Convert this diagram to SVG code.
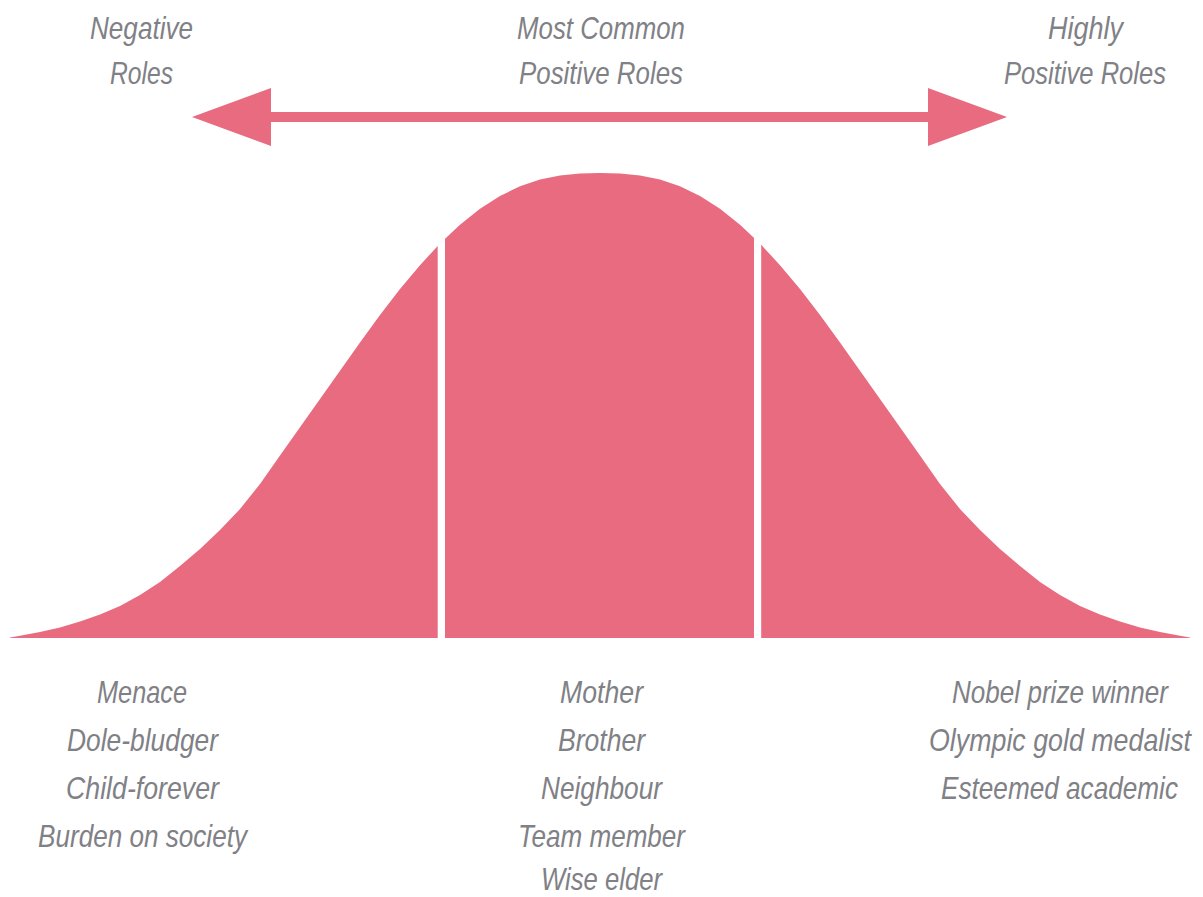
<svg xmlns="http://www.w3.org/2000/svg" width="1203" height="897" viewBox="0 0 1203 897">
<style>
.t{font-family:"Liberation Sans",Arial,sans-serif;font-style:italic;font-size:31px;fill:#7F8186;text-anchor:middle}
.pink{fill:#E86B80}
.gap{fill:#FFFFFF}
</style>
<rect width="1203" height="897" fill="#FFFFFF"/>
<g id="connectors">
<polygon id="range-arrow" class="pink" points="192,117 271,88 271,112 928,112 928,88 1007,117 928,146 928,122 271,122 271,146"/>
</g>
<g id="bell-curve">
<path class="pink" d="M10,637.5 L20,635.8 L40,632 L60,627.5 L80,621.5 L100,614.5 L120,606 L140,595 L160,582 L180,566 L200,549 L220,530 L240,509 L260,484 L280,455.5 L300,427.3 L320,399.1 L340,370.7 L360,342.4 L380,315.1 L400,289.1 L420,265.2 L440,243.5 L460,224.7 L480,208.8 L500,196 L520,186.3 L540,179.5 L560,175.4 L580,173.4 L600,173 L620,173.4 L640,175.4 L660,179.5 L680,186.3 L700,196 L720,208.8 L740,224.7 L760,243.5 L780,265.2 L800,289.1 L820,315.1 L840,342.4 L860,370.7 L880,399.1 L900,427.3 L920,455.5 L940,484 L960,509 L980,530 L1000,549 L1020,566 L1040,582 L1060,595 L1080,606 L1100,614.5 L1120,621.5 L1140,627.5 L1160,632 L1180,635.8 L1190,637.5 L1190,638 L10,638 Z"/>
<rect class="gap" x="437.7" y="165" width="7.3" height="476"/>
<rect class="gap" x="754" y="165" width="7.2" height="476"/>
</g>
<g id="header-negative">
<text class="t" transform="translate(141.5,39) scale(0.86,1)" textLength="119.8" lengthAdjust="spacingAndGlyphs">Negative</text>
<text class="t" transform="translate(141.5,84) scale(0.86,1)" textLength="73.3" lengthAdjust="spacingAndGlyphs">Roles</text>
</g>
<g id="header-common">
<text class="t" transform="translate(601,39) scale(0.86,1)" textLength="195.3" lengthAdjust="spacingAndGlyphs">Most Common</text>
<text class="t" transform="translate(601,84) scale(0.86,1)" textLength="190.7" lengthAdjust="spacingAndGlyphs">Positive Roles</text>
</g>
<g id="header-highly">
<text class="t" transform="translate(1085.5,39) scale(0.86,1)" textLength="87.2" lengthAdjust="spacingAndGlyphs">Highly</text>
<text class="t" transform="translate(1085,84) scale(0.86,1)" textLength="188.4" lengthAdjust="spacingAndGlyphs">Positive Roles</text>
</g>
<g id="list-negative">
<text class="t" transform="translate(142,703) scale(0.86,1)" textLength="104.7" lengthAdjust="spacingAndGlyphs">Menace</text>
<text class="t" transform="translate(142.5,751) scale(0.86,1)" textLength="175.6" lengthAdjust="spacingAndGlyphs">Dole-bludger</text>
<text class="t" transform="translate(142.5,799) scale(0.86,1)" textLength="177.9" lengthAdjust="spacingAndGlyphs">Child-forever</text>
<text class="t" transform="translate(142.5,847) scale(0.86,1)" textLength="243" lengthAdjust="spacingAndGlyphs">Burden on society</text>
</g>
<g id="list-common">
<text class="t" transform="translate(601.5,703) scale(0.86,1)" textLength="96.5" lengthAdjust="spacingAndGlyphs">Mother</text>
<text class="t" transform="translate(601.5,751) scale(0.86,1)" textLength="101.2" lengthAdjust="spacingAndGlyphs">Brother</text>
<text class="t" transform="translate(601.5,799) scale(0.86,1)" textLength="140.7" lengthAdjust="spacingAndGlyphs">Neighbour</text>
<text class="t" transform="translate(601.5,847) scale(0.86,1)" textLength="194.2" lengthAdjust="spacingAndGlyphs">Team member</text>
<text class="t" transform="translate(601.5,890) scale(0.86,1)" textLength="140.7" lengthAdjust="spacingAndGlyphs">Wise elder</text>
</g>
<g id="list-highly">
<text class="t" transform="translate(1060,703) scale(0.86,1)" textLength="251.2" lengthAdjust="spacingAndGlyphs">Nobel prize winner</text>
<text class="t" transform="translate(1060,751) scale(0.86,1)" textLength="304.7" lengthAdjust="spacingAndGlyphs">Olympic gold medalist</text>
<text class="t" transform="translate(1059.5,799) scale(0.86,1)" textLength="275.6" lengthAdjust="spacingAndGlyphs">Esteemed academic</text>
</g>
</svg>
